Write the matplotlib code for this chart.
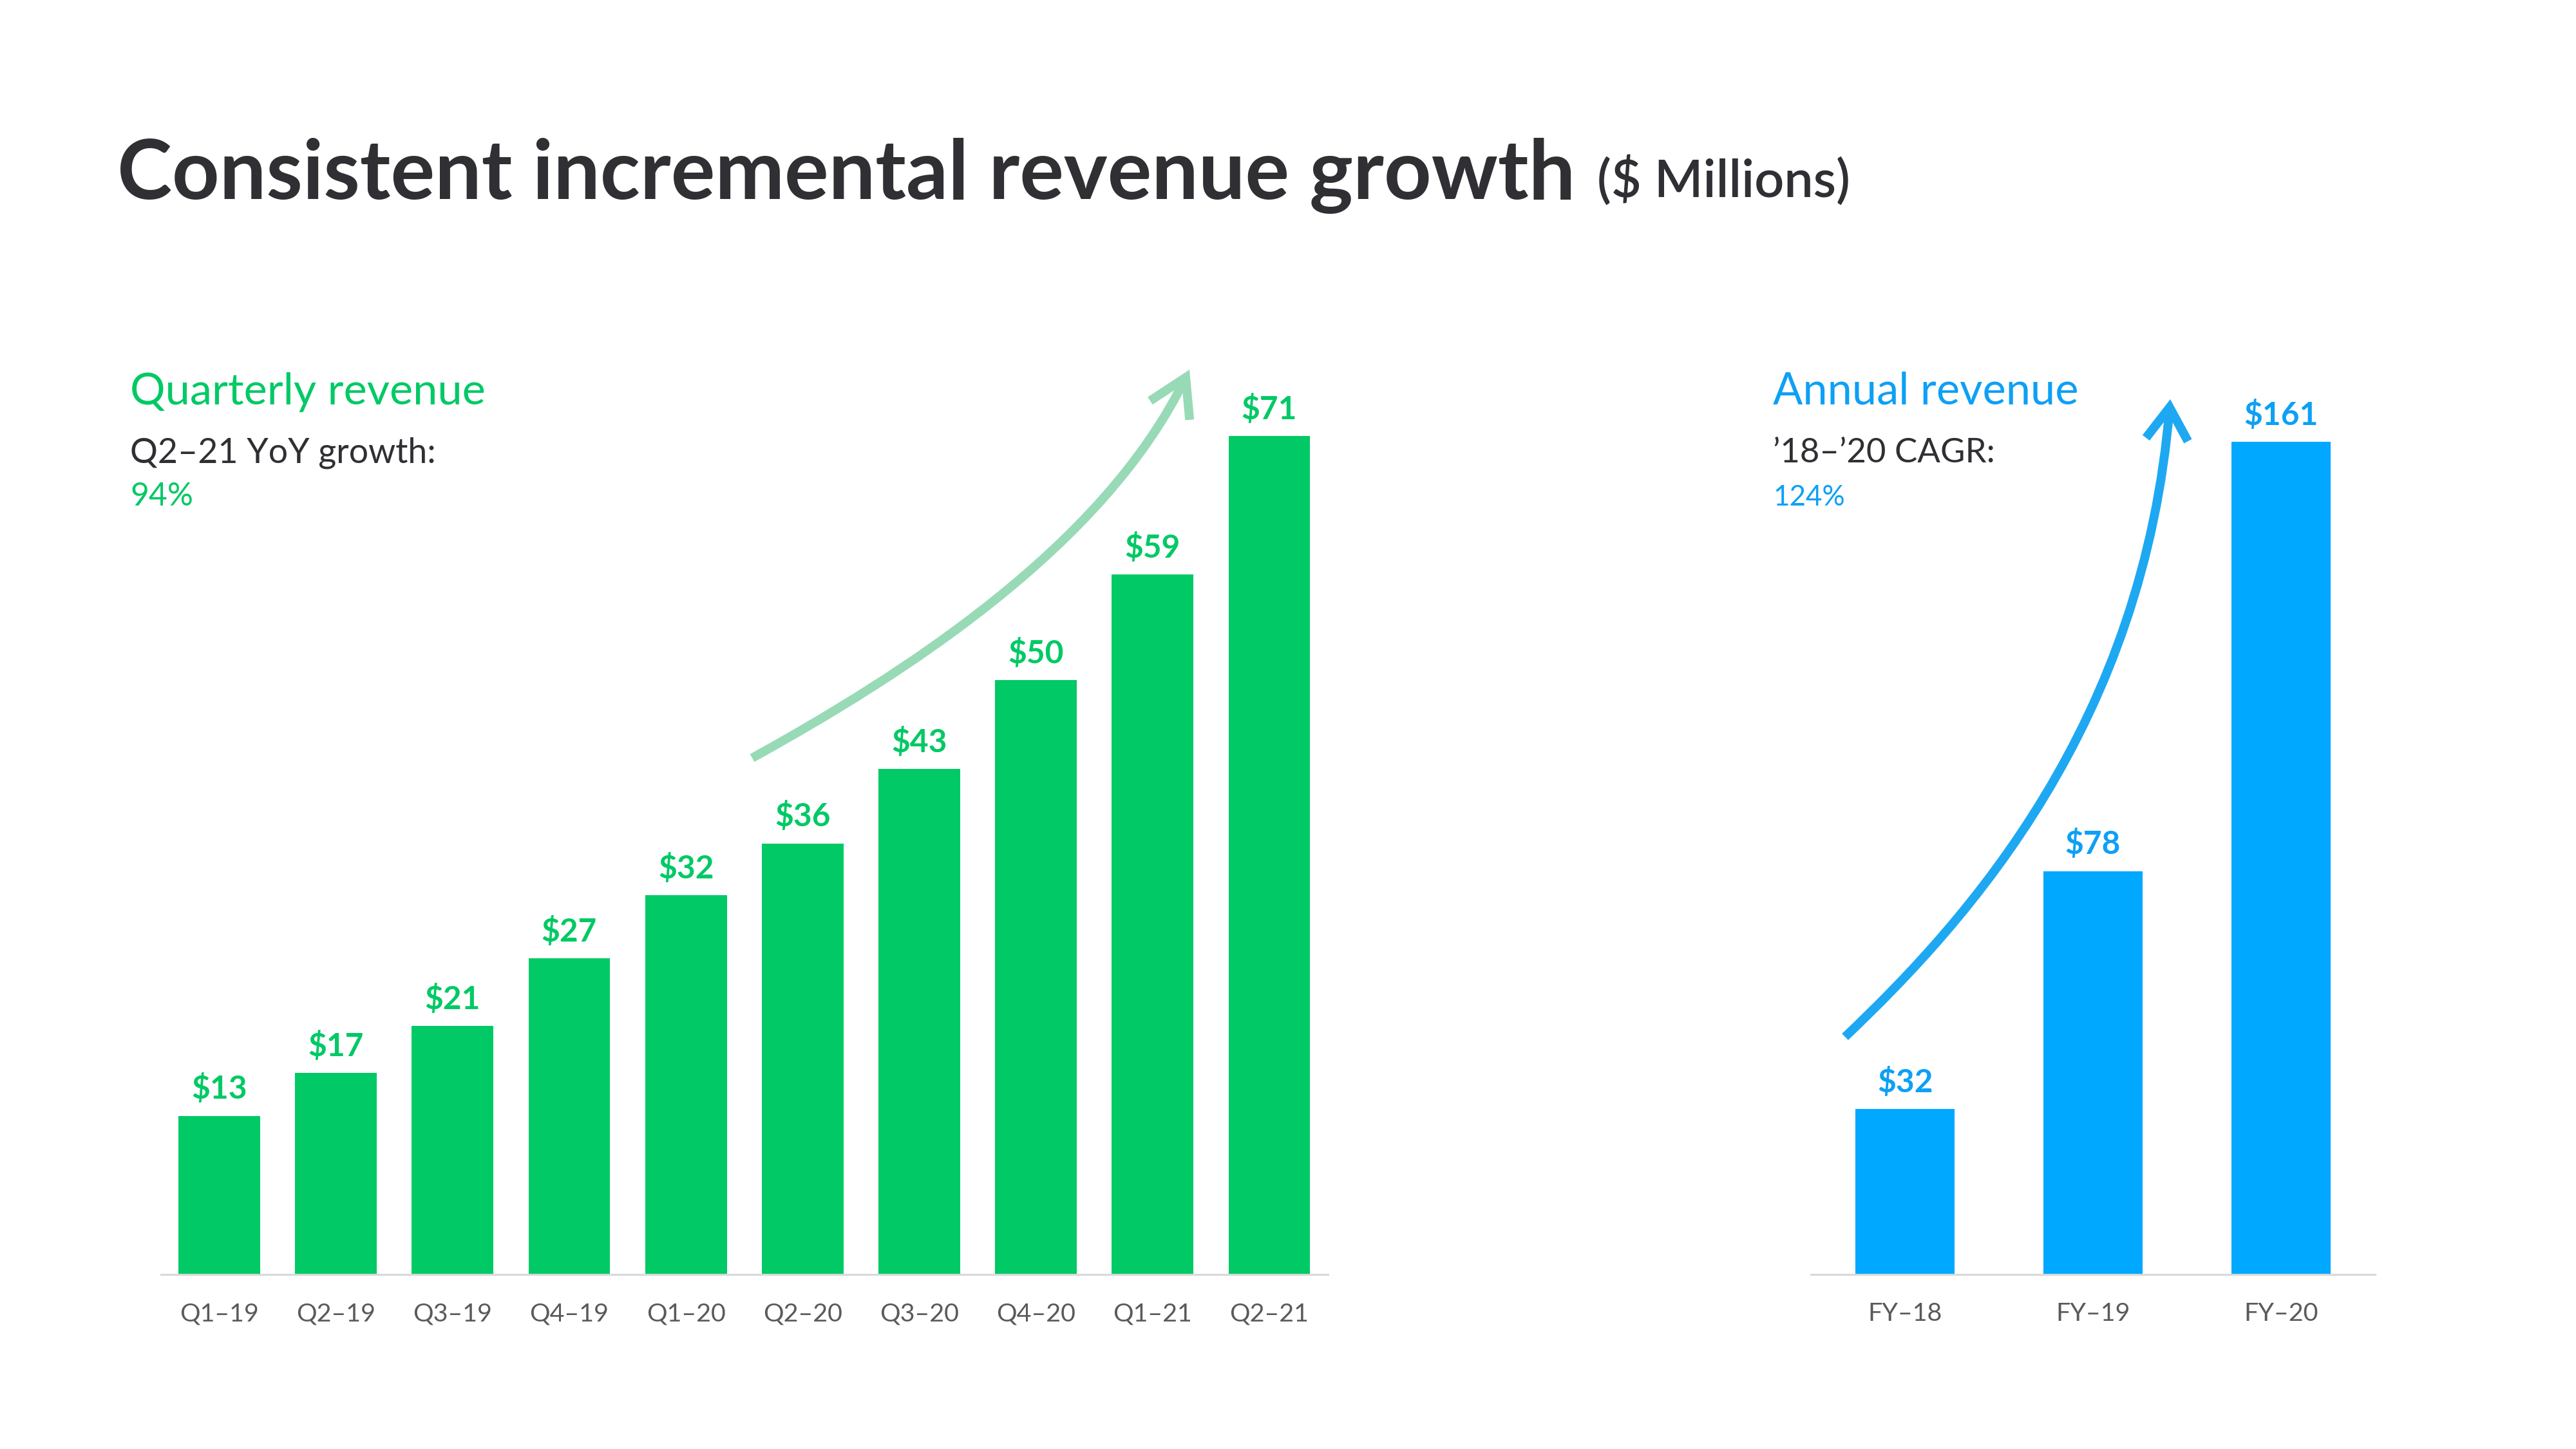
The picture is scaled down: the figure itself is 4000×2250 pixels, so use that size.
import matplotlib
matplotlib.use("Agg")
import matplotlib.pyplot as plt
from matplotlib.path import Path
from matplotlib.patches import FancyArrowPatch
from matplotlib.transforms import Affine2D

# ---------------- data ----------------
quarters = ["Q1–19", "Q2–19", "Q3–19", "Q4–19", "Q1–20",
            "Q2–20", "Q3–20", "Q4–20", "Q1–21", "Q2–21"]
quarterly_rev = [13.4, 17.0, 21.0, 26.7, 32.0, 36.4, 42.7, 50.2, 59.1, 70.8]

years = ["FY–18", "FY–19", "FY–20"]
annual_rev = [32.0, 78.0, 161.0]

title = "Consistent incremental revenue growth"
title_unit = "($ Millions)"
q_head, q_sub, q_val = "Quarterly revenue", "Q2–21 YoY growth:", "94%"
a_head, a_sub, a_val = "Annual revenue", "’18–’20 CAGR:", "124%"

# ---------------- style ----------------
FONT = ["Lato", "DejaVu Sans"]
plt.rcParams["font.family"] = FONT
GREEN = "#00C965"
LIGHT_GREEN = "#98DAB6"
BLUE = "#00A8FF"
BLUE_TEXT = "#0DA0F5"
BLUE_ARROW = "#1EA8F2"
DARK = "#2F2F34"
TICK = "#5A5A5A"
BASE = "#D9D9D9"

W, H = 4000, 2250
fig = plt.figure(figsize=(16, 9), dpi=250)
fig.patch.set_facecolor("white")
px = Affine2D().scale(1 / W, -1 / H).translate(0, 1) + fig.transFigure
renderer = fig.canvas.get_renderer()


def fit(t, target_w):
    w = t.get_window_extent(renderer).width
    t.set_fontsize(t.get_fontsize() * target_w / w)
    return t


def fitted_size(s, target_w, **kw):
    t = fig.text(0, 0, s, fontsize=12, **kw)
    size = 12 * target_w / t.get_window_extent(renderer).width
    t.remove()
    return size


def ftext(x, y, s, width, **kw):
    t = fig.text(x, y, s, transform=px, va="baseline", ha="left", **kw)
    return fit(t, width)


# ---------------- header texts ----------------
ftext(182, 309, title, 2263, fontsize=30, fontweight="bold", color=DARK)
ftext(2480, 306, title_unit, 393, fontsize=16, fontweight="semibold", color=DARK)

ftext(202, 628, q_head, 551, fontsize=15, color=GREEN)
ftext(202, 718, q_sub, 475, fontsize=12, color=DARK)
ftext(202, 785, q_val, 98, fontsize=12, color=GREEN)

ftext(2753, 628, a_head, 474, fontsize=15, color=BLUE_TEXT)
ftext(2753, 718, a_sub, 345, fontsize=12, color=DARK)
ftext(2753, 785, a_val, 112, fontsize=12, color=BLUE_TEXT)

VAL_SIZE = fitted_size("$13", 77, fontweight="bold") * 1.12
TICK_SIZE = fitted_size("Q1–19", 114) * 1.08


# ---------------- axes ----------------
def style_axes(ax):
    for s in ("top", "left", "right"):
        ax.spines[s].set_visible(False)
    ax.spines["bottom"].set_color(BASE)
    ax.spines["bottom"].set_linewidth(0.9)
    ax.set_yticks([])
    ax.tick_params(axis="x", length=0, pad=12.5, labelsize=TICK_SIZE, labelcolor=TICK)
    ax.set_facecolor("none")


axL = fig.add_axes([249.9 / W, 1 - 1979 / H, 1811.6 / W, 1471.4 / H])
xq = list(range(len(quarters)))
axL.bar(xq, quarterly_rev, width=0.7, color=GREEN, zorder=2)
axL.set_xlim(-0.5, len(quarters) - 0.5)
axL.set_ylim(0, 80)
axL.set_xticks(xq, quarters)
style_axes(axL)
for x, v in zip(xq, quarterly_rev):
    axL.annotate(f"${v:.0f}", (x, v), xytext=(0, 7.5), textcoords="offset points",
                 ha="center", va="baseline", fontsize=VAL_SIZE, fontweight="bold",
                 color=GREEN)

axR = fig.add_axes([2812.3 / W, 1 - 1979 / H, 875.4 / W, 1471.4 / H])
xa = list(range(len(years)))
axR.bar(xa, annual_rev, width=0.526, color=BLUE, zorder=2)
axR.set_xlim(-0.5, len(years) - 0.5)
axR.set_ylim(0, 183.2)
axR.set_xticks(xa, years)
style_axes(axR)
for x, v in zip(xa, annual_rev):
    axR.annotate(f"${v:.0f}", (x, v), xytext=(0, 7.5), textcoords="offset points",
                 ha="center", va="baseline", fontsize=VAL_SIZE, fontweight="bold",
                 color=BLUE_TEXT)

# ---------------- growth arrows (decoration) ----------------
curve = [Path.MOVETO, Path.CURVE4, Path.CURVE4, Path.CURVE4]
g_path = Path([(1168, 1177), (1398, 1050), (1714, 850), (1847, 574)], curve)
b_path = Path([(2865, 1610), (3061, 1424), (3329, 1122), (3370, 620)], curve)

for path, col, hl, hw in ((g_path, LIGHT_GREEN, 16.3, 9.8),
                          (b_path, BLUE_ARROW, 14.4, 9.4)):
    arr = FancyArrowPatch(path=path, transform=px,
                          arrowstyle=f"->,head_length={hl},head_width={hw}",
                          color=col, lw=4.0, shrinkA=0, shrinkB=0,
                          capstyle="butt", joinstyle="miter", zorder=3)
    fig.add_artist(arr)

fig.savefig("out.png", dpi=250, facecolor="white")
